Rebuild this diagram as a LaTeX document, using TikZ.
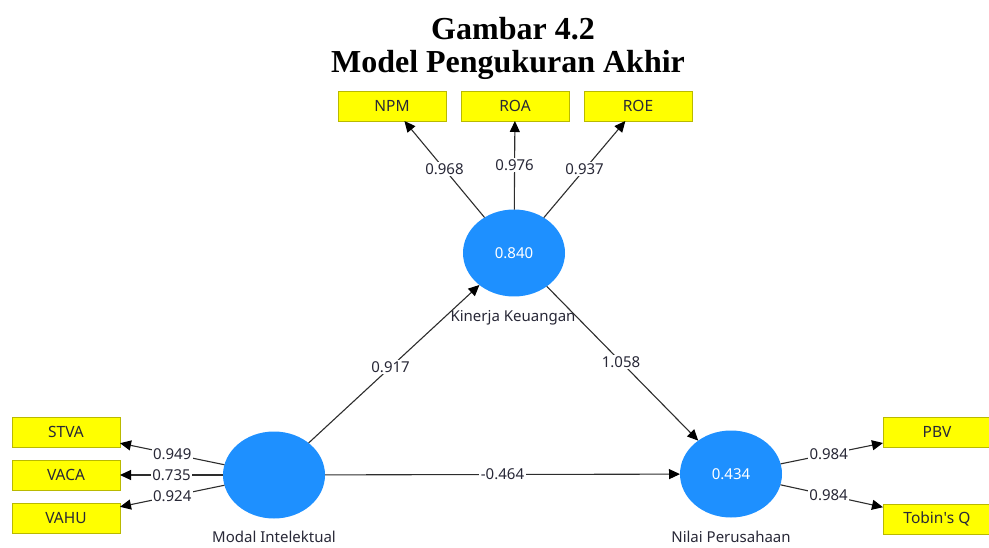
\documentclass[tikz,border=0pt]{standalone}
\usepackage{fontspec}
\setmainfont{Noto Sans}
\newfontfamily\titlefont{Liberation Serif}
\usetikzlibrary{arrows.meta,shapes.geometric}
\definecolor{latentblue}{RGB}{30,144,255}
\definecolor{indyellow}{RGB}{255,255,0}
\definecolor{indborder}{RGB}{185,185,0}
\definecolor{edgegray}{RGB}{45,45,45}
\definecolor{txtgray}{RGB}{40,40,55}
\begin{document}
\begin{tikzpicture}[x=1pt,y=-1pt,
  latent/.style={ellipse, fill=latentblue, minimum width=102pt, minimum height=87pt,
    inner sep=0pt, outer sep=0pt, text=white, font=\fontsize{15}{18}\selectfont},
  indicator/.style={rectangle, draw=indborder, line width=0.8pt, fill=indyellow,
    minimum width=108pt, minimum height=30pt, inner sep=0pt, outer sep=0pt,
    text=txtgray, font=\fontsize{15.5}{18}\selectfont},
  link/.style={draw=edgegray, line width=1.1pt, -{Triangle[length=11pt,width=10pt,color=black]}},
  coef/.style={fill=white, inner sep=1.5pt, text=txtgray, font=\fontsize{15}{18}\selectfont},
  lvname/.style={text=txtgray, font=\fontsize{15}{18}\selectfont},
  heading/.style={anchor=base, font=\titlefont\bfseries\fontsize{32}{34}\selectfont}
]
\useasboundingbox (0,0) rectangle (989,548);

% title
\node[heading] (title1) at (513,40) {Gambar 4.2};
\node[heading] (title2) at (508,73) {Model Pengukuran Akhir};

% latent variables
\node[latent] (kin)   at (514,253) {0.840};
\node[latent] (modal) at (274,475) {};
\node[latent] (nilai) at (731,474) {0.434};

\node[lvname] (kinname)   at (513,318) {Kinerja Keuangan};
\node[lvname] (modalname) at (274,537) {Modal Intelektual};
\node[lvname] (nilainame) at (731,537) {Nilai Perusahaan};

% indicators
\node[indicator] (npm)   at (392,106) {NPM};
\node[indicator] (roa)   at (515,106) {ROA};
\node[indicator] (roe)   at (638,106) {ROE};
\node[indicator] (stva)  at (66,432)  {STVA};
\node[indicator] (vaca)  at (66,475)  {VACA};
\node[indicator] (vahu)  at (66,518)  {VAHU};
\node[indicator] (pbv)   at (937,432) {PBV};
\node[indicator] (tobin) at (937,519) {Tobin\textquotesingle s Q};

% outer loadings
\draw[link] (kin) -- node[coef, pos=0.5] (l1) {0.968} (npm);
\draw[link] (kin) -- node[coef, pos=0.5] (l2) {0.976} (roa);
\draw[link] (kin) -- node[coef, pos=0.5] (l3) {0.937} (roe);
\draw[link] (modal) -- node[coef, pos=0.5] (l4) {0.949} (stva);
\draw[link] (modal) -- node[coef, pos=0.5] (l5) {0.735} (vaca);
\draw[link] (modal) -- node[coef, pos=0.5] (l6) {0.924} (vahu);
\draw[link] (nilai) -- node[coef, pos=0.47] (l7) {0.984} (pbv);
\draw[link] (nilai) -- node[coef, pos=0.47] (l8) {0.984} (tobin);

% path coefficients
\draw[link] (modal) -- node[coef, pos=0.48] (p1) {0.917} (kin);
\draw[link] (kin) -- node[coef, pos=0.49] (p2) {1.058} (nilai);
\draw[link] (modal) -- node[coef, pos=0.5] (p3) {-0.464} (nilai);
\end{tikzpicture}
\end{document}
